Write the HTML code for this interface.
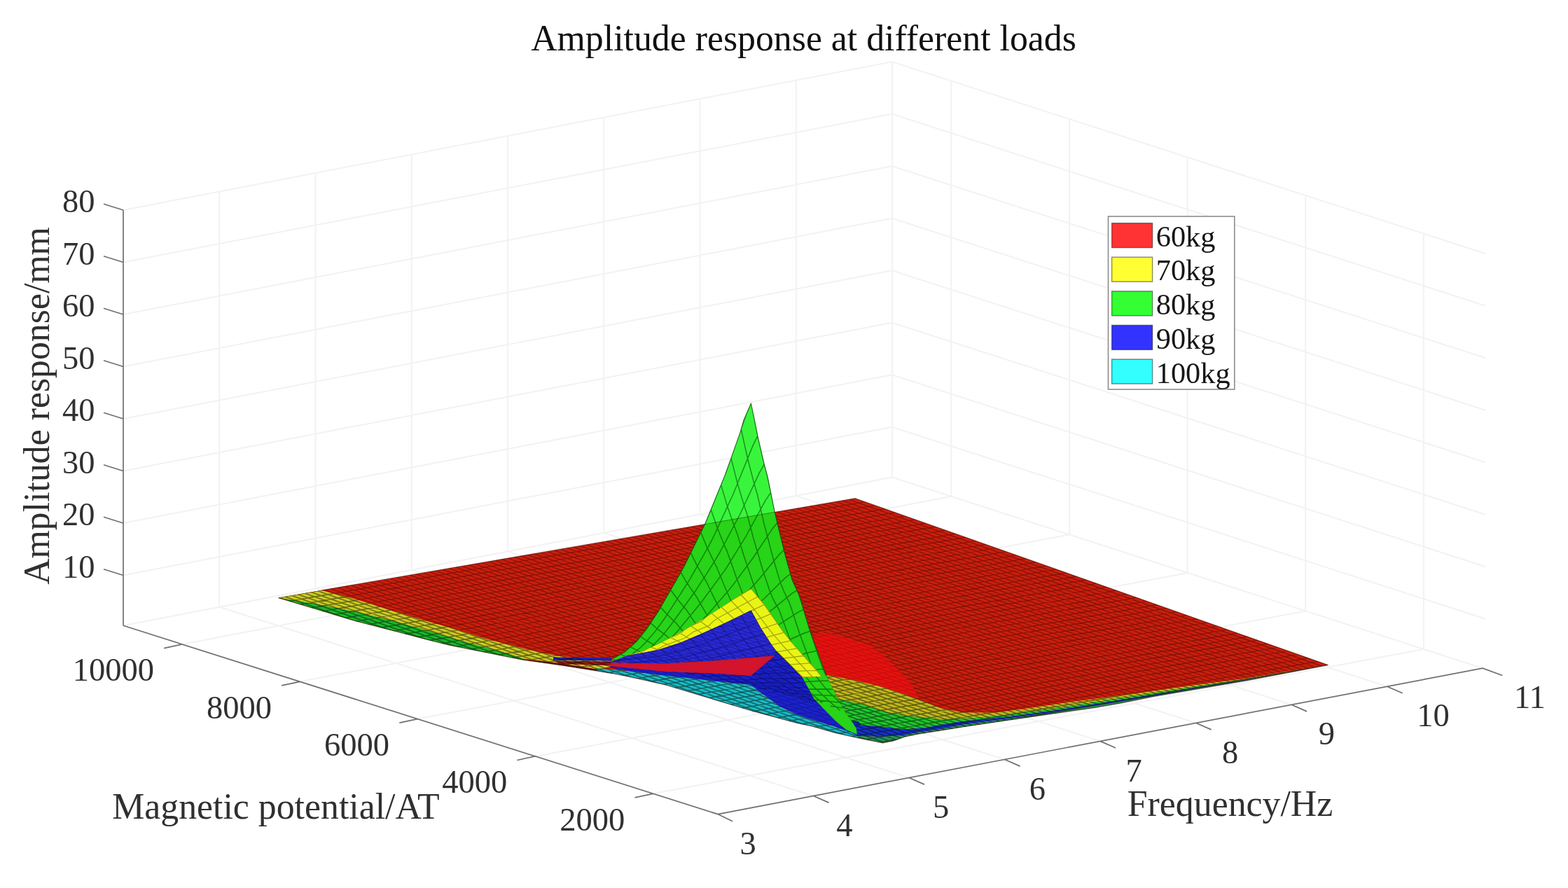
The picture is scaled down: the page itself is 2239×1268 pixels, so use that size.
<!DOCTYPE html>
<html lang="en"><head><meta charset="utf-8"><title>Amplitude response at different loads</title><style>html,body{margin:0;padding:0;background:#fff}svg{display:block}</style></head>
<body>
<svg xmlns="http://www.w3.org/2000/svg" width="2239" height="1268" viewBox="0 0 2239 1268">
<rect width="2239" height="1268" fill="#fff"/>
<path d="M313.2 866.8V273.5M450.5 840.3V247M587.8 813.9V220.6M725 787.4V194.1M862.2 760.9V167.6M999.5 734.5V141.2M1136.8 708V114.7M1274 681.5V88.2M176 821.5L1274 609.7L2121.2 883.7M176 747L1274 535.2L2121.2 809.2M176 672.5L1274 460.7L2121.2 734.7M176 598L1274 386.2L2121.2 660.2M176 523.5L1274 311.7L2121.2 585.7M176 449L1274 237.2L2121.2 511.2M176 374.5L1274 162.7L2121.2 436.7M176 300L1274 88.2L2121.2 362.2M2032.9 926.9V333.6M1864.2 872.4V279.1M1695.6 817.9V224.6M1527 763.3V170M1358.3 708.8V115.5M313.2 866.8L1161.5 1136.5M450.5 840.3L1298 1110.5M587.8 813.9L1434.6 1084.5M725 787.4L1571.1 1058.4M862.2 760.9L1707.6 1032.3M999.5 734.5L1844.1 1006.3M1136.8 708L1980.7 980.2M1274 681.5L2117.2 954.2M932.5 1133.3L2032.9 926.9M764.4 1079.9L1864.2 872.4M596.3 1026.6L1695.6 817.9M428.2 973.3L1527 763.3M260.1 920L1358.3 708.8M176 893.3L1274 681.5L2117.2 954.2" fill="none" stroke="#f2f2f2" stroke-width="2"/>
<defs>
<path id="fm" d="M397.4 853.5L1072.9 1091.6M406.8 851.9L1082.3 1090M416.1 850.3L1091.6 1088.4M425.5 848.7L1101 1086.8M434.8 847L1110.3 1085.1M444.2 845.4L1119.7 1083.5M453.6 843.8L1129.1 1081.9M462.9 842.2L1138.4 1080.3M472.3 840.6L1147.8 1078.7M481.6 839L1157.1 1077.1M491 837.4L1166.5 1075.5M500.3 835.8L1175.9 1073.8M509.7 834.1L1185.2 1072.2M519.1 832.5L1194.6 1070.6M528.4 830.9L1203.9 1069M537.8 829.3L1213.3 1067.4M547.1 827.7L1222.6 1065.8M556.5 826.1L1232 1064.2M565.9 824.5L1241.4 1062.6M575.2 822.8L1250.7 1060.9M584.6 821.2L1260.1 1059.3M593.9 819.6L1269.4 1057.7M603.3 818L1278.8 1056.1M612.7 816.4L1288.2 1054.5M622 814.8L1297.5 1052.9M631.4 813.2L1306.9 1051.3M640.7 811.5L1316.2 1049.6M650.1 809.9L1325.6 1048M659.5 808.3L1335 1046.4M668.8 806.7L1344.3 1044.8M678.2 805.1L1353.7 1043.2M687.5 803.5L1363 1041.6M696.9 801.9L1372.4 1040M706.2 800.2L1381.8 1038.3M715.6 798.6L1391.1 1036.7M725 797L1400.5 1035.1M734.3 795.4L1409.8 1033.5M743.7 793.8L1419.2 1031.9M753 792.2L1428.5 1030.3M762.4 790.6L1437.9 1028.7M771.8 789L1447.3 1027.1M781.1 787.3L1456.6 1025.4M790.5 785.7L1466 1023.8M799.8 784.1L1475.3 1022.2M809.2 782.5L1484.7 1020.6M818.6 780.9L1494.1 1019M827.9 779.3L1503.4 1017.4M837.3 777.7L1512.8 1015.8M846.6 776L1522.1 1014.1M856 774.4L1531.5 1012.5M865.4 772.8L1540.9 1010.9M874.7 771.2L1550.2 1009.3M884.1 769.6L1559.6 1007.7M893.4 768L1568.9 1006.1M902.8 766.4L1578.3 1004.5M912.1 764.8L1587.7 1002.9M921.5 763.1L1597 1001.2M930.9 761.5L1606.4 999.6M940.2 759.9L1615.7 998M949.6 758.3L1625.1 996.4M958.9 756.7L1634.4 994.8M968.3 755.1L1643.8 993.2M977.7 753.5L1653.2 991.6M987 751.8L1662.5 989.9M996.4 750.2L1671.9 988.3M1005.7 748.6L1681.2 986.7M1015.1 747L1690.6 985.1M1024.5 745.4L1700 983.5M1033.8 743.8L1709.3 981.9M1043.2 742.2L1718.7 980.3M1052.5 740.5L1728 978.6M1061.9 738.9L1737.4 977M1071.3 737.3L1746.8 975.4M1080.6 735.7L1756.1 973.8M1090 734.1L1765.5 972.2M1099.3 732.5L1774.8 970.6M1108.7 730.9L1784.2 969M1118 729.2L1793.5 967.4M1127.4 727.6L1802.9 965.7M1136.8 726L1812.3 964.1M1146.1 724.4L1821.6 962.5M1155.5 722.8L1831 960.9M1164.8 721.2L1840.3 959.3M1174.2 719.6L1849.7 957.7M1183.6 718L1859.1 956.1M1192.9 716.3L1868.4 954.4M1202.3 714.7L1877.8 952.8M1211.6 713.1L1887.1 951.2M1221 711.5L1896.5 949.6M1072.9 1091.6L1896.5 949.6M1058.5 1086.5L1882.1 944.5M1044.2 1081.5L1867.8 939.5M1029.8 1076.4L1853.4 934.4M1015.4 1071.3L1839 929.3M1001 1066.3L1824.6 924.3M986.7 1061.2L1810.3 919.2M972.3 1056.1L1795.9 914.1M957.9 1051.1L1781.5 909.1M943.5 1046L1767.1 904M929.2 1040.9L1752.8 898.9M914.8 1035.9L1738.4 893.9M900.4 1030.8L1724 888.8M886.1 1025.7L1709.7 883.7M871.7 1020.7L1695.3 878.7M857.3 1015.6L1680.9 873.6M842.9 1010.5L1666.5 868.5M828.6 1005.5L1652.2 863.5M814.2 1000.4L1637.8 858.4M799.8 995.3L1623.4 853.3M785.5 990.3L1609.1 848.3M771.1 985.2L1594.7 843.2M756.7 980.1L1580.3 838.1M742.3 975.1L1565.9 833.1M728 970L1551.6 828M713.6 965L1537.2 823M699.2 959.9L1522.8 817.9M684.8 954.8L1508.4 812.8M670.5 949.8L1494.1 807.8M656.1 944.7L1479.7 802.7M641.7 939.6L1465.3 797.6M627.4 934.6L1451 792.6M613 929.5L1436.6 787.5M598.6 924.4L1422.2 782.4M584.2 919.4L1407.8 777.4M569.9 914.3L1393.5 772.3M555.5 909.2L1379.1 767.2M541.1 904.2L1364.7 762.2M526.8 899.1L1350.4 757.1M512.4 894L1336 752M498 889L1321.6 747M483.6 883.9L1307.2 741.9M469.3 878.8L1292.9 736.8M454.9 873.8L1278.5 731.8M440.5 868.7L1264.1 726.7M426.1 863.6L1249.7 721.6M411.8 858.6L1235.4 716.6M397.4 853.5L1221 711.5"/>
<clipPath id="cs"><path d="M397.4 853.5l823.6-142l675.5 238.1l-116.5 22.2l-80 13.7l-52.8 9l-47.2 9.5l-37.4 6.5l-62.6 9l-62.4 9l-62.6 9.4l-35 5.6l-27.5 4.3l-19.8 4l-17.7 6.2l-14.4 2.8l-20.1-4l-16.1-3.2l-32.2-7.3l-32.2-9.3l-22.4-4.8l-62.6-16.8l-62.5-18.8l-62.5-18.8l-50-11.3l-20-3.9l-25.5-4.3l-53.6-8.6l-53.7-7.5l-53.6-10.7l-53.6-10.7l-25.5-6.4l-53.6-14l-53.7-13.9l-53.6-16.1z"/></clipPath>
<clipPath id="cg"><path d="M1072.4 575.8l5.1 24.2l5 25l8.7 37.5l5 18.5l10.1 50.1l12.8 53.4l11.6 42.4l10.6 23.1l15.5 51.6l3.2 8.5l8 21.7l8 22.6l4 9.6l16.2 34l8.8 16l11.3 16.2l6.5 9.8l1.2 9l-15.7-6.7l-14.5-12.1l-16.1-16.2l-15.3-16l-17-31.1l28.1-1.1l-10.9-12.6l-15.6-17.2l-17.2-19.5l-14-18l-23.5-33.9l-19.8-23.8l-26.7 15.7l-5.8 4.5l-35.2 22.5l-32.2 19l-32.1 17l-24.2 10.5l-16.1 4.6l-28.6 10.4l4.5-5.2l16.1-8.9l16.1-14.5l16.1-20.1l16.1-24.1l18.5-32.2l17.1-30l30.4-61.5l28.5-69.5l8.8-24.6l13.1-36.9l5-17.5z"/></clipPath>
<clipPath id="cy"><path d="M1072.5 840.8l19.8 23.8l23.5 33.9l14 18l17.2 19.5l15.6 17.2l10.9 12.6l-28.1 1.1l-20.4-20.9l-17.6-17.5l-5.8-8.2l-15.1-23.2l-14-25.5l-32.5 15.9l-35.2 16.1l-32.2 13.6l-32.1 10.5l-24.2 4.8l-21.5 3.8l-23.2 9.7l28.6-11.4l16.1-4.6l24.2-10.5l32.1-17l32.2-19l35.2-22.5l5.8-4.5z"/></clipPath>
<clipPath id="cb"><path d="M1107.4 928.5l-5.8-8.2l-15.1-23.2l-14-25.5l-32.5 15.9l-35.2 16.1l-32.2 13.6l-32.1 10.5l-24.2 4.8l-21.5 3.8l-23.2 9.7l78.4 1.6l78-4.6l78-6.8zM871.6 951.2l78.4 7.8l78 3.2l44 3.1l34-29.1l1.4-7.7l17.6 17.5l20.4 20.9l17 31.1l15.3 16l16.1 16.2l14.5 12.1l15.7 6.7l-1.2-14l1.6 16.1l-8.1-4.8l-24.1-8.8l-32.2-9.7l-23-7.8l-23-11l-23.3-17.1l-18.7-14.1l-59.5-6.2l-62.5-7l-50-6.1l-28.4-5.5z"/></clipPath>
<clipPath id="cn"><path d="M1180 964l36.3 6.4l40.2 9.6l32.2 10.5l55.1 20.8l31.2 6.2l47 0l46.9-6.2l62.5-9.3l68.6-9l47.2-6.5l52.8-7.5l80-10.5l116.5-18.9l0 0l-116.5 20l-80 11.6l-100 15.6l-100 15.7l-62.4 8.2l-46.9 4.7l-46.9 1.6l-47-4.8l-32.2-5.7l-32.2-10.5l-36.2-8zM1196.2 998l36.2 8l32.2 10.5l32.2 5.7l47 4.8l46.9-1.6l46.9-4.7l62.4-8.2l100-15.7l100-15.6l80-11.6l116.5-20l0 0l-116.5 20.8l-80 12.5l-100 16.7l-100 15.7l-62.4 8.5l-62.6 6.2l-35 5.5l-20 4l-31.3 2l-32.2-4l-33.7-2.5l-6.5-4.8l-11.3-16.2l-8.8-16zM1222.8 1035l33.7 2.5l32.2 4l31.3-2l20-4l35-5.5l62.6-6.2l62.4-8.5l100-15.7l100-16.7l80-12.5l116.5-20.8l0 0l-116.5 21.6l-80 13.1l-100 17.6l-100 15.7l-62.4 8.9l-62.6 8.2l-35 6.8l-27.1 4l-24.2 4.8l-32.2 1.7l-32.1-0.9l-18.4-5.1l-6-16zM1224.4 1051.1l32.1 0.9l32.2-1.7l24.2-4.8l27.1-4l35-6.8l62.6-8.2l62.4-8.9l100-15.7l100-17.6l80-13.1l116.5-21.6l0 0l-116.5 22.2l-80 13.7l-52.8 9l-47.2 9.5l-37.4 6.5l-62.6 9l-62.4 9l-62.6 9.4l-35 5.6l-27.5 4.3l-19.8 4l-17.7 6.2l-14.4 2.8l-20.1-4l-16.1-3.2zM459 842.9l48.2 12.5l53.7 17.1l53.6 16.1l25.5 6.9l53.6 16.7l53.6 13.9l32.2 7.5l26.8 4.3l38.8 3.6l26.6 2.5l0 8l-17.1 4l-53.6-8.5l-30.9-4l-23-3l-21.2-6.9l-32.2-8.6l-53.6-15.5l-25.5-8l-53.6-15l-53.7-12.9l-53.6-10.7l-56.2-9.4zM397.4 853.5l56.2 9.4l53.6 10.7l53.7 12.9l53.6 15l25.5 8l53.6 15.5l32.2 8.6l21.2 6.9l0.2 1.7l-53.6-10.7l-53.6-10.7l-25.5-6.4l-53.6-14l-53.7-13.9l-53.6-16.1l-56.2-16.9zM850 954l50 4.5l50 6.1l62.5 7l59.5 6.2l18.7 14.1l23.3 17.1l23 11l23 7.8l32.2 9.7l24.1 8.8l8.1 4.8l0 2.5l-32.2-7.3l-32.2-9.3l-22.4-4.8l-62.6-16.8l-62.5-18.8l-62.5-18.8l-50-11.3l-20-3.9l-25.5-4.3z"/></clipPath>
<clipPath id="cu"><path d="M0 0H2239L2239 536 1221 711.5 397.4 853.5 0 922z"/></clipPath>
</defs>
<g fill="none" stroke-linejoin="round">
<path d="M397.4 853.5l823.6-142l675.5 238.1l-116.5 22.2l-80 13.7l-52.8 9l-47.2 9.5l-37.4 6.5l-62.6 9l-62.4 9l-62.6 9.4l-35 5.6l-27.5 4.3l-19.8 4l-17.7 6.2l-14.4 2.8l-20.1-4l-16.1-3.2l-32.2-7.3l-32.2-9.3l-22.4-4.8l-62.6-16.8l-62.5-18.8l-62.5-18.8l-50-11.3l-20-3.9l-25.5-4.3l-53.6-8.6l-53.7-7.5l-53.6-10.7l-53.6-10.7l-25.5-6.4l-53.6-14l-53.7-13.9l-53.6-16.1z" fill="#cb1f0d"/>
<use href="#fm" stroke="#2c0000" stroke-opacity=".42" stroke-width="1.3" clip-path="url(#cs)"/>
<path d="M1170 903l14 1.5l56.5 16.1l24.1 17.7l16.1 16.1l16.1 16l8 12.1l7.2 13.5l-23.3-5.5l-32.2-10.5l-40.2-9.6l-36.3-6.4l-4-9.6l-8-22.6l-8-21.7z" fill="#f60a10" fill-opacity=".6"/>
<path d="M1180 964l36.3 6.4l40.2 9.6l32.2 10.5l55.1 20.8l31.2 6.2l47 0l46.9-6.2l62.5-9.3l68.6-9l47.2-6.5l52.8-7.5l80-10.5l116.5-18.9l0 0l-116.5 20l-80 11.6l-100 15.6l-100 15.7l-62.4 8.2l-46.9 4.7l-46.9 1.6l-47-4.8l-32.2-5.7l-32.2-10.5l-36.2-8z" fill="#c4b81e"/>
<path d="M1196.2 998l36.2 8l32.2 10.5l32.2 5.7l47 4.8l46.9-1.6l46.9-4.7l62.4-8.2l100-15.7l100-15.6l80-11.6l116.5-20l0 0l-116.5 20.8l-80 12.5l-100 16.7l-100 15.7l-62.4 8.5l-62.6 6.2l-35 5.5l-20 4l-31.3 2l-32.2-4l-33.7-2.5l-6.5-4.8l-11.3-16.2l-8.8-16z" fill="#22c830"/>
<path d="M1200 1028l6 18l18.4 5.1l7.6-11.1l-6-10z" fill="#1428c8"/>
<path d="M1222.8 1035l33.7 2.5l32.2 4l31.3-2l20-4l35-5.5l62.6-6.2l62.4-8.5l100-15.7l100-16.7l80-12.5l116.5-20.8l0 0l-116.5 21.6l-80 13.1l-100 17.6l-100 15.7l-62.4 8.9l-62.6 8.2l-35 6.8l-27.1 4l-24.2 4.8l-32.2 1.7l-32.1-0.9z" fill="#1730d2"/>
<path d="M1224.4 1051.1l32.1 0.9l32.2-1.7l24.2-4.8l27.1-4l35-6.8l62.6-8.2l62.4-8.9l100-15.7l100-17.6l80-13.1l116.5-21.6l0 0l-116.5 22.2l-80 13.7l-52.8 9l-47.2 9.5l-37.4 6.5l-62.6 9l-62.4 9l-62.6 9.4l-35 5.6l-27.5 4.3l-19.8 4l-17.7 6.2l-14.4 2.8l-20.1-4l-16.1-3.2z" fill="#239a58"/>
<path d="M459 842.9l48.2 12.5l53.7 17.1l53.6 16.1l25.5 6.9l53.6 16.7l53.6 13.9l32.2 7.5l26.8 4.3l38.8 3.6l26.6 2.5l0 8l-17.1 4l-53.6-8.5l-30.9-4l-23-3l-21.2-6.9l-32.2-8.6l-53.6-15.5l-25.5-8l-53.6-15l-53.7-12.9l-53.6-10.7l-56.2-9.4z" fill="#d0cc24"/>
<path d="M397.4 853.5l56.2 9.4l53.6 10.7l53.7 12.9l53.6 15l25.5 8l53.6 15.5l32.2 8.6l21.2 6.9l0.2 1.7l-53.6-10.7l-53.6-10.7l-25.5-6.4l-53.6-14l-53.7-13.9l-53.6-16.1l-56.2-16.9z" fill="#1cba2c"/>
<path d="M770 943.5l30.9 4l53.6 8.5l25.5 5l0 1.6l-25.5-4.3l-53.6-8.6l-53.7-7.5z" fill="#5a1208"/>
<path d="M790 938.6l84 0.9l0 4.1l-84-0.8z" fill="#1a1fc0"/>
<path d="M790 943.6l84 0.8l0 6.1l-74-2.5z" fill="#a01414"/>
<path d="M850 954l50 4.5l50 6.1l62.5 7l59.5 6.2l18.7 14.1l23.3 17.1l23 11l23 7.8l32.2 9.7l24.1 8.8l8.1 4.8l0 2.5l-32.2-7.3l-32.2-9.3l-22.4-4.8l-62.6-16.8l-62.5-18.8l-62.5-18.8l-50-11.3l-20-3.9l-25.5-4.3z" fill="#1cbcc8"/>
<use href="#fm" stroke="#001000" stroke-opacity=".5" stroke-width="1.6" clip-path="url(#cn)"/>
<path d="M1072.4 575.8l5.1 24.2l5 25l8.7 37.5l5 18.5l10.1 50.1l12.8 53.4l11.6 42.4l10.6 23.1l15.5 51.6l3.2 8.5l8 21.7l8 22.6l4 9.6l16.2 34l8.8 16l11.3 16.2l6.5 9.8l1.2 9l-15.7-6.7l-14.5-12.1l-16.1-16.2l-15.3-16l-17-31.1l28.1-1.1l-10.9-12.6l-15.6-17.2l-17.2-19.5l-14-18l-23.5-33.9l-19.8-23.8l-26.7 15.7l-5.8 4.5l-35.2 22.5l-32.2 19l-32.1 17l-24.2 10.5l-16.1 4.6l-28.6 10.4l4.5-5.2l16.1-8.9l16.1-14.5l16.1-20.1l16.1-24.1l18.5-32.2l17.1-30l30.4-61.5l28.5-69.5l8.8-24.6l13.1-36.9l5-17.5z" fill="#27d417"/>
<path d="M1072.4 575.8l5.1 24.2l5 25l8.7 37.5l5 18.5l10.1 50.1l12.8 53.4l11.6 42.4l10.6 23.1l15.5 51.6l3.2 8.5l8 21.7l8 22.6l4 9.6l16.2 34l8.8 16l11.3 16.2l6.5 9.8l1.2 9l-15.7-6.7l-14.5-12.1l-16.1-16.2l-15.3-16l-17-31.1l28.1-1.1l-10.9-12.6l-15.6-17.2l-17.2-19.5l-14-18l-23.5-33.9l-19.8-23.8l-26.7 15.7l-5.8 4.5l-35.2 22.5l-32.2 19l-32.1 17l-24.2 10.5l-16.1 4.6l-28.6 10.4l4.5-5.2l16.1-8.9l16.1-14.5l16.1-20.1l16.1-24.1l18.5-32.2l17.1-30l30.4-61.5l28.5-69.5l8.8-24.6l13.1-36.9l5-17.5z" fill="#38f53c" clip-path="url(#cu)"/>
<path d="M1072.6 574.7l-7.1 17l-28.5 81.7l-28.5 70.4l-28.5 58.3l-7.1 13.5l-35.6 61.2l-14.2 21.4l-14.3 17.8l-14.2 12.8l-14.3 8.7l-7.1 2.8l-28.5 3.9M1082 622.2l-7 14.2l-27.9 68.9l-27.8 60.2l-7 13.6l-27.9 49.3l-34.8 53.9l-13.9 19.1l-14 16.2l-6.9 6.9l-13.9 10.9l-14 7l-6.9 1.3l-14 1.5M1091.3 662.8l-7 12.3l-28.2 60.4l-28.1 53l-7 11.9l-28.2 43.9l-35.1 48.4l-14.1 17.4l-14.1 14.5l-7 5.8l-14.1 9.5l-14 6l-7.1 0.6M1100.7 703.3l-7.1 10.4l-28.5 52.1l-28.4 46.1l-35.6 48.6l-35.6 43l-14.2 15.4l-14.2 13l-7.1 4.7l-7.1 4.6l-14.3 6.1M1110 746.6l-6.9 8.2l-27.7 41.7l-27.7 37.4l-6.9 8.7l-27.7 31.8l-34.7 36l-13.8 13.1l-20.8 16.4l-13.9 7.6M1119.4 785.5l-7 6.6l-28.1 34.3l-28 31.1l-7 7.1l-28 26.6l-35 30.7l-14 11.3l-14 9.6l-7 3.9M1128.7 819.5l-7.1 5.3l-28.4 28l-28.4 25.6l-7.1 5.8l-28.4 22.2l-35.4 25.8l-14.2 9.7l-7.1 4M1138.1 842.9l-6.9 4.2l-27.5 22.6l-34.3 26.1l-27.5 18.4l-48 29.7M1147.4 870.4l-6.9 3.2l-27.9 18l-34.8 20.7l-62.6 32.7M1156.8 901.4l-7.1 2.1l-56.6 25.2l-56.6 21.4M1166.1 929.3l-13.5 2.9l-54.2 15.8l-40.6 10.1M1175.5 955.3l-13.8 1.3l-82.6 12.3M1184.9 972.1l-14.1 0.2l-70.4 4.5M1194.2 984.6l-13.2-0.6l-59.3 0.3M1203.6 994.6l-13.5-1.2l-47.1-2.1M1212.9 1004.6l-48.6-5.1M1222.3 1013.7l-36.7-5.4M1231.6 1022.5l-24.7-4.7M1241 1030.7l-12.8-2.9M1250.3 1036.4l-0.8-0.2M1072.6 574.7l9.1 46.5l9.2 39.9l4.6 17.4l13.7 64.6l13.7 55.2l9.2 31.3l9.1 20.2l18.3 59.6l9.1 27.3l9.2 24.8l13.7 20l22.9 24.7l22.8 21.6l9.2 6.4l4.6 2.2M1058.2 612.8l9.3 41.7l9.3 35.9l4.6 15.6l9.3 40.6l14 53.2l9.2 30.6l4.7 12.4l9.3 19.6l13.9 42.4l18.6 50l4.6 10.4l13.9 17.9l23.2 23.2l23.2 20.4M1043.9 654.3l9.1 35.6l9.2 30.9l4.6 13.5l9.2 34.9l13.7 46.6l9.2 27.1l4.6 11.7l9.1 16.5l13.8 37.7l13.7 34.9l9.2 21.2l13.8 16.9l22.9 21.3l13.7 11.4M1029.5 692.4l9.3 31.2l9.4 27l4.6 11.8l9.4 31.4l14 41.3l9.3 24.2l4.7 9.5l9.3 15.9l14 34.5l14 31.6l4.6 9.8l4.7 8.3l14 15l23.3 19.7M1015.1 727.5l9.2 26.3l9.2 23l4.6 10.1l13.8 38.8l9.2 23.5l9.2 21.1l4.6 9.1l9.2 13.1l18.4 39.9l18.4 36.4l13.8 13.8l13.8 10.7M1000.8 760.2l9 22l13.6 27.8l13.6 32.8l9 20l13.6 26.9l9 11l18.1 34.3l18.1 32.4l4.5 5.5l13.6 11.7M986.4 789.3l9.2 18.9l13.9 24l9.2 19.7l13.9 26.9l9.3 16l4.6 6.8l9.2 10.1l27.7 46.5l9.3 13.9l4.6 3.7M972 817.1l9.1 15.5l13.6 19.7l13.6 23.9l18.1 28.3l4.5 6.4l9.1 8.2l31.7 45.8M957.7 842.2l9.3 13.1l13.9 16.6l9.3 14.2l14 19.3l9.3 11.7l4.7 4.7l9.3 7.7l18.6 23.7M943.3 867.1l9.1 10.2l13.6 13.1l13.6 16.3l18.2 19.7l4.5 4.5l9.1 5.6l9.1 9.4M928.9 889.6l8.8 7.7l13.2 10l13.2 12.6l22 19.2l8.8 4.7M914.6 908.8l9.1 6.2l13.7 7.9l13.6 10.3l18.2 12.7M900.2 923.8l26.1 12.7l17.3 10.2M885.8 934.4l23 8.5l9.2 4.5M871.5 940.5l20.9 6.3M857.1 942.5l9.7 2.7" stroke="#004000" stroke-opacity=".55" stroke-width="1.5" clip-path="url(#cg)"/>
<path d="M1072.5 840.8l19.8 23.8l23.5 33.9l14 18l17.2 19.5l15.6 17.2l10.9 12.6l-28.1 1.1l-20.4-20.9l-17.6-17.5l-5.8-8.2l-15.1-23.2l-14-25.5l-32.5 15.9l-35.2 16.1l-32.2 13.6l-32.1 10.5l-24.2 4.8l-21.5 3.8l-23.2 9.7l28.6-11.4l16.1-4.6l24.2-10.5l32.1-17l32.2-19l35.2-22.5l5.8-4.5z" fill="#eaf414"/>
<path d="M1072.6 840.7l-56.6 33.8l-7.1 5.8l-7.1 6.9l-21.2 9.2l-7.1 6.6l-7.1 4l-21.2 8.3l-7.1 3.4l-21.2 12.1l-14.2 3.5l-7.1 1.1l-42.4 4.8M1082 852l-56 30l-7 4.7l-7 7l-21 8.1l-14 9.7l-27.9 10.1l-21 11.1l-7 2.2l-14 2.6l-28 2.5M1091.3 863.3l-57.3 27.3l-14.3 10.5l-21.5 7.4l-7.1 6.6l-28.7 9l-28.6 12.9l-14.4 2.6l-14.3 1M1100.7 876.7l-56.6 23.1l-7 4.1l-7.1 5.2l-21.2 6.2l-7.1 4.8l-7 3.1l-28.3 8l-21.2 9l-14.1 2.3M1110 890.3l-55.6 19l-6.9 3l-7 5.2l-20.9 5l-6.9 2.5l-7 4.3l-27.8 6.3l-20.8 7.7M1119.4 903.2l-57.4 16l-14.4 7l-21.5 4.1l-7.2 4.7l-28.7 5.1l-7.1 1.9M1128.7 914.9l-56.3 12.5l-7 2.5l-7.1 3.6l-21.1 3.1l-14.1 5l-14.1 1.9M1138.1 925.8l-61.9 10.8l-6.8 3.8l-27.5 2.9l-6.9 3.5M1147.4 936.5l-59.8 7.4l-6.7 2.9l-6.6 1l-13.3 0.9M1156.8 946.8l-55.9 4.3l-6.9 1.1l-7 2.2M1166.1 957.4l-53.2 1.6M1175.5 967.5l-36.6-0.6M1184.9 974.1l-20-0.9M1194.2 980.8l-3.3-0.3M1072.6 840.7l18.3 22.1l27.4 39.1l13.8 16.9l13.7 15.8l27.4 31.1l22.9 16.4M1058.2 849.2l18.5 20.6l23.1 30.9l18.4 21.5l41.6 44.1l13.8 9.2M1043.9 857.8l18.6 19l23.4 28.9l14 15.2l41.9 41.8l4.7 4.1l4.7 2.9M1029.5 866.4l18 16.7l22.6 25.5l13.5 13.8l45.1 41.6M1015.1 875l18.3 15.3l22.8 23.4l13.6 12.7l36.5 30.6M1000.8 887.7l18.4 13.3l23.1 20.8l13.8 11.3l27.7 20.6M986.4 893.9l17.6 11.5l26.5 21.6l30.9 21.7M972 904.8l17.9 9.9l26.7 18.9l22.3 13.8M957.7 910.4l18.1 9l27.1 17.2l13.6 7.7M943.3 916.1l18.5 8l32.2 18M928.9 923.9l21.4 8l21.3 10.6M914.6 931.6l17.3 5.1l17.2 6.8M900.2 934.9l17.7 4.5l8.8 2.9M885.8 936.5l18.4 4.1M871.5 938.1l10.3 2M857.1 939.7l2.2 0.4" stroke="#504800" stroke-opacity=".45" stroke-width="1.3" clip-path="url(#cy)"/>
<path d="M1107.4 928.5l-5.8-8.2l-15.1-23.2l-14-25.5l-32.5 15.9l-35.2 16.1l-32.2 13.6l-32.1 10.5l-24.2 4.8l-21.5 3.8l-23.2 9.7l78.4 1.6l78-4.6l78-6.8z" fill="#2a2ad8"/>
<path d="M871.6 947.5l78.4 0.1l78-4.6l78-6.8l-34 29.1l-44-3.1l-78-3.2l-78.4-7.8z" fill="#d2142c"/>
<path d="M871.6 951.2l78.4 7.8l78 3.2l44 3.1l34-29.1l1.4-7.7l17.6 17.5l20.4 20.9l17 31.1l15.3 16l16.1 16.2l14.5 12.1l15.7 6.7l-1.2-14l1.6 16.1l-8.1-4.8l-24.1-8.8l-32.2-9.7l-23-7.8l-23-11l-23.3-17.1l-18.7-14.1l-59.5-6.2l-62.5-7l-50-6.1l-28.4-5.5z" fill="#1c22cc"/>
<path d="M1072.6 871.6l-28.3 13.9l-14.2 7.5l-21.2 9.1l-14.2 7.2l-21.2 7.6l-7.1 3.5l-7.1 2.3l-28.3 7.9l-77.8 10.4M1082 888.6l-43.1 17.8l-21.5 7.5l-7.1 3.6l-28.7 8.9l-7.2 3l-35.8 8.1l-64.6 6M1091.3 904.3l-28.1 9l-14 5.1l-21 5.9l-14.1 5l-21 4.9l-14 3.9l-28.1 4.9l-7 0.7l-49.1 2.8M1100.7 918.7l-42.7 11.1l-21.3 4.7l-14.3 4l-21.3 3.8l-7.1 2l-35.6 4.8l-42.6 1M1110 931.3l-41.6 8.4l-20.8 3.3l-13.9 3.2l-20.8 2.7l-13.9 2.5l-34.6 2.8l-27.8-0.3M1119.4 940.6l-42.3 6.5l-21.1 2.5l-14.1 2.6l-21.1 1.9l-7 1.2l-35.2 2.3l-21.1-0.5M1128.7 950l-42.9 4.6l-21.5 1.7l-7.2 1.2l-28.6 2l-7.2 1l-35.8 1l-7.2-0.5M1138.1 959.5l-62.5 3.5l-13.9 1.3l-34.7 1.3l-27.8-0.2M1147.4 968.5l-63.6 1l-14.2 0.7l-28.3 0.1l-21.2-0.7M1156.8 975.7l-68.2-1.1l-6.8 0.4l-40.9-1.4M1166.1 982.9l-104.3-4.8M1175.5 989.1l-92.8-6.8M1184.9 995l-81.4-7.9M1194.2 1000.8l-69.8-8.6M1203.6 1006.7l-58.3-8.7M1212.9 1011.7l-46.8-7.9M1222.3 1015l-35.3-6.6M1231.6 1018.3l-23.8-4.9M1241 1021.6l-12.3-2.7M1250.3 1024.9l-0.7-0.2M1072.6 871.6l13.7 25l18.3 28l4.6 5.9l36.6 36.7l22.8 17.6l41.2 25.8l41.2 14.5M1058.2 878.6l13.9 23.4l18.5 26.3l4.7 5.3l37 34.5l23.2 16.5l37 21.8l4.6 2.3l27.8 9.2M1043.9 885.7l13.6 21.2l18.3 23.9l4.5 5.1l36.5 31.7l22.8 15.3l41 22.6l18.3 5.7M1029.5 893.3l13.9 19.6l18.5 22.1l4.6 4.6l32.4 25.7l4.6 3.6l23.1 14.2l37 18.8l9.2 3.4M1015.1 899.4l13.7 17.6l18.1 20.1l4.6 4.3l36.3 26.8l22.7 13l36.3 17.2M1000.8 906.7l13.8 16.1l18.5 18.4l4.6 3.8l36.9 24.5l23.1 12l23 9.9M986.4 912.3l13.5 14.3l22.6 20.1l36.1 22l22.6 10.9l13.5 5.4M972 917.5l13.8 13.3l18.4 15.1l4.6 3.2l36.9 20.3l23 10M957.7 923.2l13.4 11.5l22.3 16.2l35.8 17.7l13.4 5.4M943.3 927l13.7 10.7l18.4 12.2l4.5 2.6l36.7 16.5M928.9 931.1l13.2 9.1l22 13.2l26.4 10.3M914.6 932.9l13.6 8.6l18.1 10l4.6 2.1l13.6 4.7M900.2 934.8l17 9.5l17 8.4l4.2 1.5M885.8 936.7l13.3 6.8l13.3 6M871.5 938.6l14.9 6.7M857.1 940.5l3.2 1.2" stroke="#000040" stroke-opacity=".35" stroke-width="1.3" clip-path="url(#cb)"/>
<use href="#fm" stroke="#000030" stroke-opacity=".22" stroke-width="1.5" clip-path="url(#cb)"/>
<path d="M876.1 939.8l16.1-8.9l16.1-14.5l16.1-20.1l16.1-24.1l18.5-32.2l17.1-30l30.4-61.5l28.5-69.5l8.8-24.6l13.1-36.9l5-17.5l10.5-24.2l5.1 24.2l5 25l8.7 37.5l5 18.5l10.1 50.1l12.8 53.4l11.6 42.4l10.6 23.1l15.5 51.6l3.2 8.5l8 21.7l8 22.6l4 9.6" stroke="#0a3a0a" stroke-opacity=".55" stroke-width="1.2"/>
<path d="M397.4 853.5l56.2 16.9l53.6 16.1l53.7 13.9l53.6 14l25.5 6.4l53.6 10.7l53.6 10.7l53.7 7.5l53.6 8.6l25.5 4.3l20 3.9l50 11.3l62.5 18.8l62.5 18.8l62.6 16.8l22.4 4.8l32.2 9.3l32.2 7.3l16.1 3.2l20.1 4l14.4-2.8l17.7-6.2l19.8-4l27.5-4.3l35-5.6l62.6-9.4l62.4-9l62.6-9l37.4-6.5l47.2-9.5l52.8-9l80-13.7l116.5-22.2" stroke="#200" stroke-opacity=".5" stroke-width="1.4"/>
<path d="M459 842.9l762-131.4l675.5 238.1" stroke="#300" stroke-opacity=".35" stroke-width="1.2"/>
</g>
<path d="M176 893.3V300M176 893.3L1025 1162.6l21 10.2M1025 1162.6L2117.2 954.2l28 10.3M176 821.5l-28 -8.7M176 747l-28 -8.7M176 672.5l-28 -8.7M176 598l-28 -8.7M176 523.5l-28 -8.7M176 449l-28 -8.7M176 374.5l-28 -8.7M176 300l-28 -8.7M932.5 1133.3l-26 5.6M764.4 1079.9l-26 5.6M596.3 1026.6l-26 5.6M428.2 973.3l-26 5.6M260.1 920l-26 5.6M1161.5 1136.5l22 9.6M1298 1110.5l22 9.6M1434.6 1084.5l22 9.6M1571.1 1058.4l22 9.6M1707.6 1032.3l22 9.6M1844.1 1006.3l22 9.6M1980.7 980.2l22 9.6" fill="none" stroke="#6f6f6f" stroke-width="1.7"/>
<g font-family="'Liberation Serif','Times New Roman',serif" fill="#303030">
<text x="1147.5" y="72.3" font-size="51.8" text-anchor="middle" fill="#111">Amplitude response at different loads</text>
<g font-size="46.5">
<text x="135.6" y="824.5" text-anchor="end">10</text>
<text x="135.6" y="750" text-anchor="end">20</text>
<text x="135.6" y="675.5" text-anchor="end">30</text>
<text x="135.6" y="601" text-anchor="end">40</text>
<text x="135.6" y="526.5" text-anchor="end">50</text>
<text x="135.6" y="452" text-anchor="end">60</text>
<text x="135.6" y="377.5" text-anchor="end">70</text>
<text x="135.6" y="303" text-anchor="end">80</text>
<text x="892.3" y="1185.5" text-anchor="end">2000</text>
<text x="724.2" y="1132.1" text-anchor="end">4000</text>
<text x="556.1" y="1078.8" text-anchor="end">6000</text>
<text x="388" y="1025.5" text-anchor="end">8000</text>
<text x="219.9" y="972.2" text-anchor="end">10000</text>
<text x="1068.2" y="1219.8" text-anchor="middle">3</text>
<text x="1205.9" y="1193.7" text-anchor="middle">4</text>
<text x="1343.6" y="1167.7" text-anchor="middle">5</text>
<text x="1481.3" y="1141.6" text-anchor="middle">6</text>
<text x="1619" y="1115.5" text-anchor="middle">7</text>
<text x="1756.7" y="1089.5" text-anchor="middle">8</text>
<text x="1894.4" y="1063.4" text-anchor="middle">9</text>
<text x="2046.6" y="1037.3" text-anchor="middle">10</text>
<text x="2184.3" y="1011.2" text-anchor="middle">11</text>
</g>
<g font-size="51.8">
<text x="394" y="1169.4" text-anchor="middle">Magnetic potential/AT</text>
<text x="1756.5" y="1164.6" text-anchor="middle">Frequency/Hz</text>
<text transform="translate(69.5 579.5) rotate(-90)" text-anchor="middle">Amplitude response/mm</text>
</g>
<rect x="1582.5" y="309" width="180.3" height="247" fill="#fff" stroke="#8c8c8c" stroke-width="1.6"/>
<g font-size="42.3" fill="#161616">
<rect x="1587.6" y="318.6" width="58" height="35" fill="#ff3333" stroke="#000" stroke-opacity=".45" stroke-width="1.4"/>
<text x="1650.8" y="351.6">60kg</text>
<rect x="1587.6" y="367.2" width="58" height="35" fill="#ffff33" stroke="#000" stroke-opacity=".45" stroke-width="1.4"/>
<text x="1650.8" y="400.4">70kg</text>
<rect x="1587.6" y="415.8" width="58" height="35" fill="#33ff33" stroke="#000" stroke-opacity=".45" stroke-width="1.4"/>
<text x="1650.8" y="449.1">80kg</text>
<rect x="1587.6" y="464.4" width="58" height="35" fill="#3333ff" stroke="#000" stroke-opacity=".45" stroke-width="1.4"/>
<text x="1650.8" y="497.9">90kg</text>
<rect x="1587.6" y="513" width="58" height="35" fill="#33ffff" stroke="#000" stroke-opacity=".45" stroke-width="1.4"/>
<text x="1650.8" y="546.6">100kg</text>
</g>
</g>
</svg>
</body></html>
